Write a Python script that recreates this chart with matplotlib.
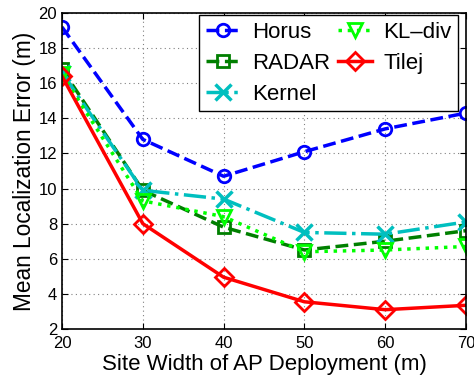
import matplotlib
matplotlib.use("Agg")
import matplotlib.pyplot as plt

plt.rcParams["font.family"] = ["Liberation Sans", "DejaVu Sans"]

site_width = [20, 30, 40, 50, 60, 70]
horus = [19.2, 12.8, 10.7, 12.1, 13.4, 14.3]
radar = [16.8, 9.9, 7.8, 6.5, 7.0, 7.6]
kernel = [16.6, 9.9, 9.4, 7.5, 7.4, 8.1]
kl_div = [16.5, 9.3, 8.4, 6.4, 6.5, 6.7]
tilej = [16.4, 8.0, 4.95, 3.55, 3.1, 3.35]

W, H = 474, 382
fig = plt.figure(figsize=(W / 100, H / 100), dpi=100)
ax = fig.add_axes([62 / W, 1 - 329 / H, (466 - 62) / W, (329 - 13) / H])

mk = dict(markersize=9, markerfacecolor="none", markeredgewidth=2)
ax.plot(site_width, horus, "--o", color="#0000ff", lw=2.5, label="Horus", **mk)
ax.plot(site_width, radar, "--s", color="#007f00", lw=2.5, label="RADAR", **dict(mk, markersize=8))
ax.plot(site_width, kernel, "-.x", color="#00bfbf", lw=2.5, label="Kernel", **dict(mk, markersize=11, markeredgewidth=2.5))
ax.plot(site_width, kl_div, ":v", color="#00ff00", lw=2.5, label="KL\u2013div", **dict(mk, markersize=10))
ax.plot(site_width, tilej, "-D", color="#ff0000", lw=2.5, label="Tilej", **mk)

ax.set_xlim(20, 70)
ax.set_ylim(2, 20)
ax.set_xticks(site_width)
ax.set_yticks(range(2, 21, 2))
ax.tick_params(direction="in", labelsize=12, length=4, top=True, right=True)
ax.tick_params(axis="x", pad=5)
ax.grid(True, linestyle=(0, (1, 3)), color="#808080", lw=0.8)
for s in ax.spines.values():
    s.set_linewidth(1.2)

ax.set_xlabel("Site Width of AP Deployment (m)", fontsize=16, labelpad=2)
ax.set_ylabel("Mean Localization Error (m)", fontsize=16.3, labelpad=2)

leg = ax.legend(ncol=2, loc="upper right", fontsize=16, fancybox=False, framealpha=1,
                edgecolor="black", handlelength=1.55, columnspacing=0.35,
                handletextpad=0.5, borderaxespad=0, borderpad=0.3, labelspacing=0.45,
                bbox_to_anchor=(458 / W, 1 - 15 / H), bbox_transform=fig.transFigure)
leg.get_frame().set_linewidth(1.0)

fig.savefig("out.png", dpi=100)
